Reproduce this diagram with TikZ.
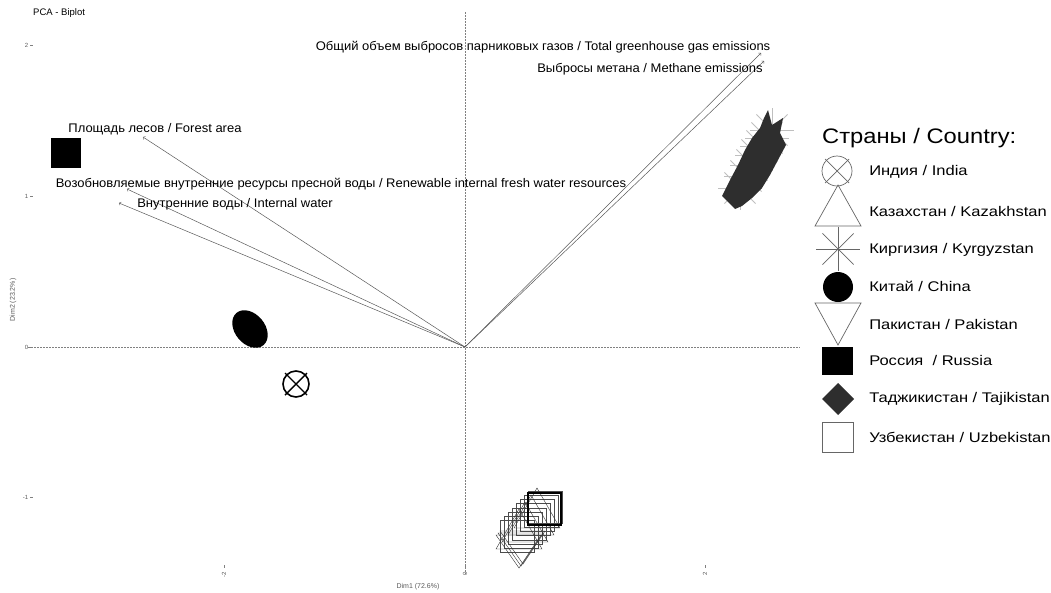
\documentclass[tikz,border=0pt]{standalone}
\usepackage{fontspec}
\setmainfont{Liberation Sans}
\usetikzlibrary{positioning}
\definecolor{vecgray}{gray}{0.35}
\definecolor{blob}{gray}{0.18}
\definecolor{mkgray}{gray}{0.4}

\tikzset{
  axis/.style={gray, dash pattern=on 1.5pt off 1.5pt},
  vec/.style={->, vecgray, line width=0.5pt},
  varlab/.style={font=\fontsize{12.5}{14}\selectfont, inner sep=0pt, xscale=1.04},
  ticklab/.style={font=\fontsize{6}{7}\selectfont, text=gray!70!black, inner sep=0.5pt},
  leglab/.style={font=\fontsize{14}{16}\selectfont, anchor=west, inner sep=0pt, xscale=1.18},
  mk/.style={mkgray, line width=0.7pt},
}

\begin{document}
\begin{tikzpicture}[x=1pt,y=-1pt]
	\useasboundingbox (0,0) rectangle (1051,592);
	\node[font=\fontsize{9.5}{11}\selectfont, anchor=west, inner sep=0pt] (title) at (33,13) {PCA - Biplot};

	% axes
	\coordinate (o) at (465,347);
	\draw [axis] (28,347) -- (800,347);
	\draw [axis] (465,12) -- (465,574);
	\foreach \v/\y in {2/45,1/196,0/347,-1/497}{%
		\node [ticklab, anchor=east] (ty\v) at (29,\y) {\v};
		\draw [gray] (30,\y) -- (33,\y);
		}
	\foreach \v/\x in {-2/224,0/465,2/705}{%
		\node [ticklab, rotate=90, anchor=east] (tx\v) at (\x,571) {\v};
		\draw [gray] (\x,565) -- (\x,568);
		}
	\node [ticklab, font=\fontsize{7}{8}\selectfont] (xlab) at (418,587) {Dim1 (72.6\%)};
	\node [ticklab, font=\fontsize{7}{8}\selectfont, rotate=90] (ylab) at (13,300) {Dim2 (23.2\%)};

	% variable vectors
	\coordinate (ghg) at (761,53);
	\coordinate (meth) at (764,61);
	\coordinate (forest) at (143,137);
	\coordinate (renew) at (127,189);
	\coordinate (inwat) at (119,203);
	\foreach \e in {ghg,meth,forest,renew,inwat}
		\draw [vec] (o) -- (\e);
	\node [varlab] (ghgl) at (543,47) {Общий объем выбросов парниковых газов / Total greenhouse gas emissions};
	\node [varlab] (methl) at (650,69) {Выбросы метана / Methane emissions};
	\node [varlab] (forestl) at (155,129) {Площадь лесов / Forest area};
	\node [varlab] (renewl) at (341,184) {Возобновляемые внутренние ресурсы пресной воды / Renewable internal fresh water resources};
	\node [varlab] (inwatl) at (235,204) {Внутренние воды / Internal water};

	% countries
	\node [fill=black, minimum size=30pt, inner sep=0pt] (rus) at (66,153) {};
	\fill [black, rotate around={-50:(250,329)}] (250,329) ellipse [x radius=21, y radius=15];
	\draw [line width=1.6pt] (296,384) circle [radius=13];
	\draw [line width=1.4pt] (285,373) -- (307,395) (285,395) -- (307,373);

	% kyrgyzstan / tajikistan cluster
	\foreach \cx/\cy in {740/188,746/176,752/165,757/155,762/146,767/138,772/130}
		\foreach \a in {0,45,...,315}
			\draw [gray!50, line width=0.8pt] (\cx,\cy) -- ++(\a:22);
	\fill [blob] (722,196) -- (730,180) -- (738,165) -- (745,150) -- (752,138) -- (760,128)
		-- (764,118) -- (768,110) -- (772,125) -- (783,118) -- (780,133) -- (786,145)
		-- (778,160) -- (770,175) -- (762,188) -- (752,198) -- (742,206) -- (735,209) -- cycle;

	% uzbekistan / kazakhstan / pakistan cluster
	\foreach \k in {0,...,7}
		\draw [gray!60!black, line width=0.4pt] ({500+4*\k},{520-4.1*\k}) rectangle ++(34,32);
	\foreach \k in {0,...,3}
		\draw [gray!40!black, line width=0.4pt] ({537-6*\k},{488+7*\k}) -- ++(23,40) -- ++(-46,0) -- cycle;
	\foreach \k in {0,...,2}
		\draw [gray!40!black, line width=0.4pt] ({496+2*\k},{535-2*\k}) -- ++(45,0) -- ++(-22,33) -- cycle;
	\draw [black, line width=2pt] (528,493) rectangle (561,525);

	% legend
	\node [font=\fontsize{21}{24}\selectfont, anchor=west, inner sep=0pt, xscale=1.13] (legt) at (822,138) {Страны / Country:};
	\foreach \t/\y [count=\i] in {{Индия / India}/172, {Казахстан / Kazakhstan}/211,
			{Киргизия / Kyrgyzstan}/250, {Китай / China}/286, {Пакистан / Pakistan}/324,
			{Россия\ \ / Russia}/360, {Таджикистан / Tajikistan}/399, {Узбекистан / Uzbekistan}/437}
		\node [leglab] (leg\i) at (869,\y) {\t};
	\draw [mk] (837,171) circle [radius=15];
	\draw [mk] (825,159) -- (849,183) (825,183) -- (849,159);
	\draw [mk] (838,185) -- (861,226) -- (815,226) -- cycle;
	\foreach \a in {0,45,...,315}
		\draw [mk] (838,249) -- ++(\a:22);
	\fill [black] (838,287) circle [radius=15];
	\draw [mk] (815,303) -- (861,303) -- (838,345) -- cycle;
	\fill [black] (822,347) rectangle (853,375);
	\fill [blob] (838,383) -- (854,399) -- (838,415) -- (822,399) -- cycle;
	\draw [mk] (822,422) rectangle (853,452);
\end{tikzpicture}
\end{document}
